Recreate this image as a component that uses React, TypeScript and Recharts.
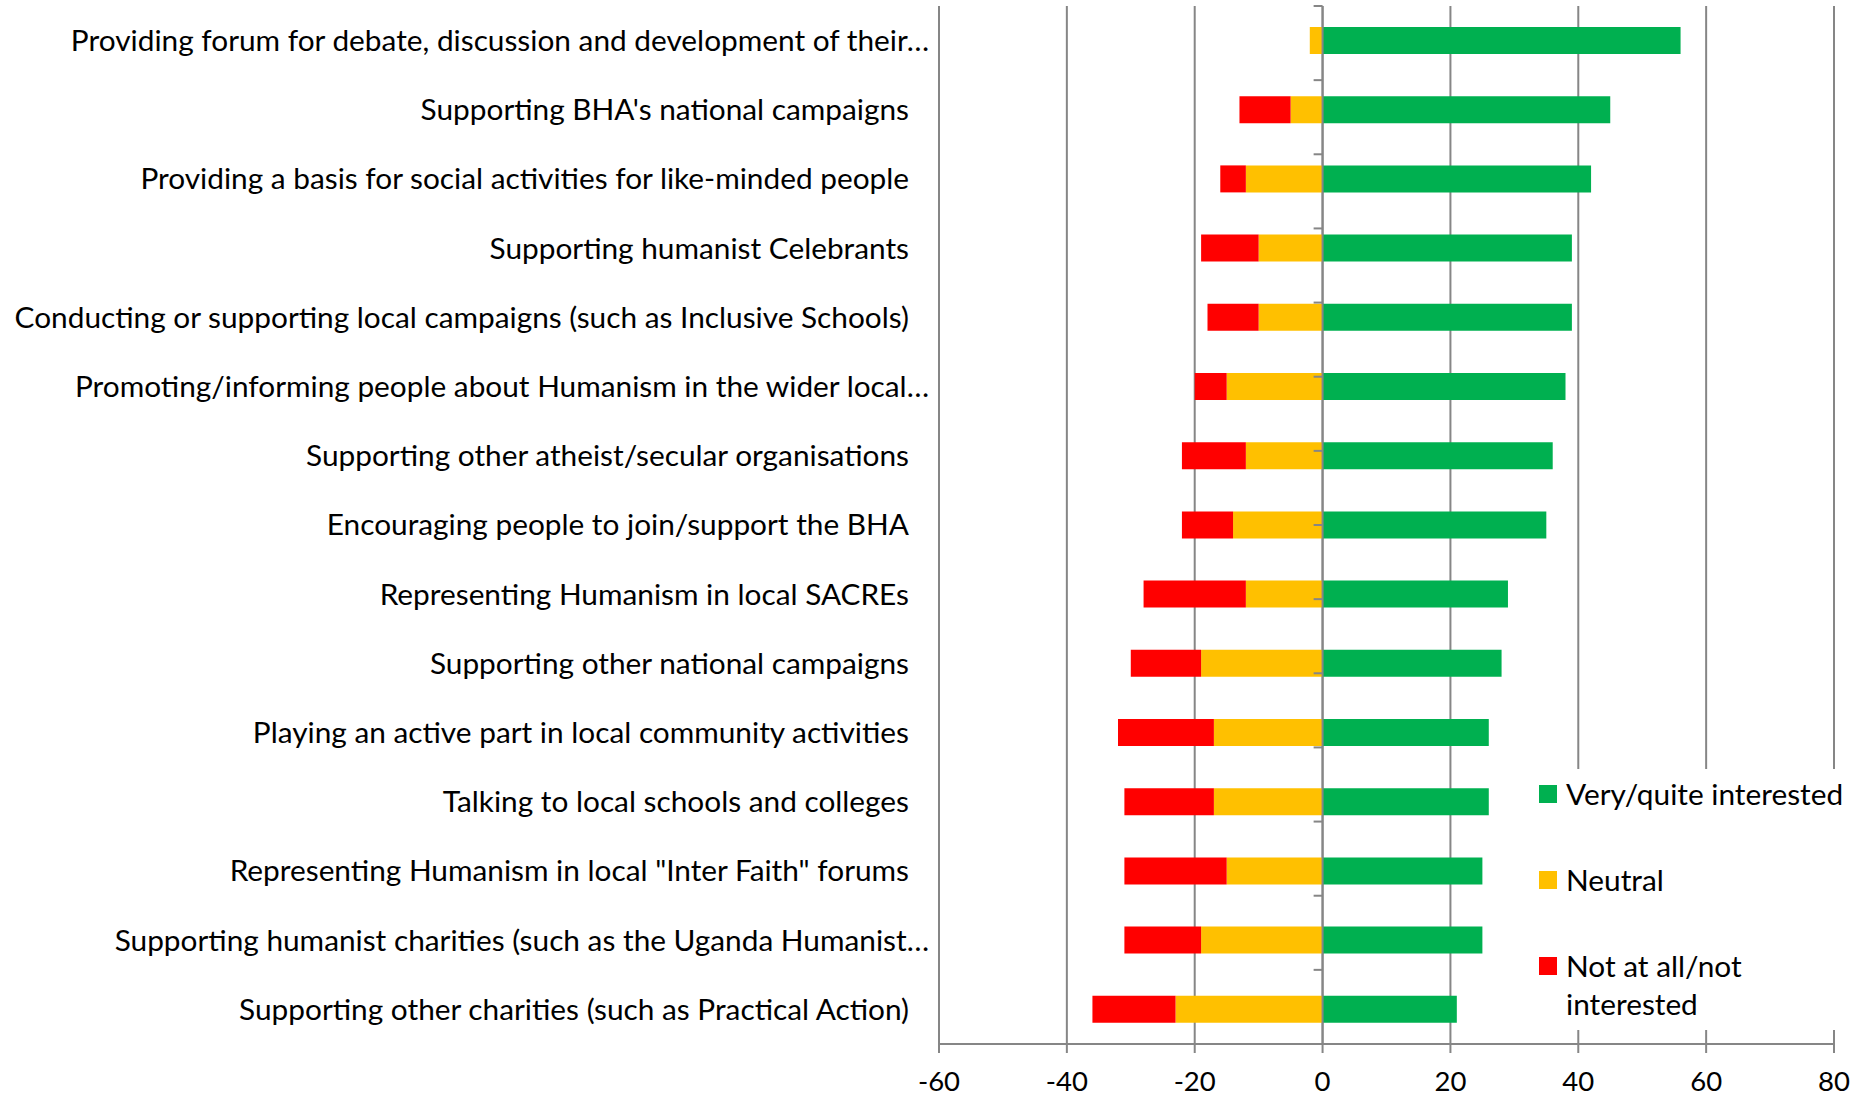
import React from 'react';
import { BarChart, Bar, XAxis, YAxis, CartesianGrid, ReferenceLine, Legend } from 'recharts';

const FONT = "Lato, 'Open Sans', sans-serif";

const categories = [
  'Providing forum for debate, discussion and development of their…',
  "Supporting BHA's national campaigns",
  'Providing a basis for social activities for like-minded people',
  'Supporting humanist Celebrants',
  'Conducting or supporting local campaigns (such as Inclusive Schools)',
  'Promoting/informing people about Humanism in the wider local…',
  'Supporting other atheist/secular organisations',
  'Encouraging people to join/support the BHA',
  'Representing Humanism in local SACREs',
  'Supporting other national campaigns',
  'Playing an active part in local community activities',
  'Talking to local schools and colleges',
  'Representing Humanism in local "Inter Faith" forums',
  'Supporting humanist charities (such as the Uganda Humanist…',
  'Supporting other charities (such as Practical Action)',
];

const interested = [56, 45, 42, 39, 39, 38, 36, 35, 29, 28, 26, 26, 25, 25, 21];
const neutral = [-2, -5, -12, -10, -10, -15, -12, -14, -12, -19, -17, -17, -15, -19, -23];
const notInterested = [0, -8, -4, -9, -8, -5, -10, -8, -16, -11, -15, -14, -16, -12, -13];

const xTicks = [-60, -40, -20, 0, 20, 40, 60, 80];

const seriesKeys = ['interested', 'neutral', 'notInterested'];
const seriesNames = ['Very/quite interested', 'Neutral', 'Not at all/not interested'];
const seriesColors = ['#00B050', '#FFC000', '#FF0000'];

const data = categories.map((name, i) => ({
  name,
  interested: interested[i],
  neutral: neutral[i],
  notInterested: notInterested[i],
}));

const boundaries = Array.from({ length: categories.length + 1 }, (_, i) => i);

const GRID = '#868686';
const LABEL_SIZE = 29.8;

const CategoryTick = (props: any) => {
  const { x, y, payload } = props;
  const label = String(payload.value);
  const truncated = label.endsWith('…');
  return (
    <text
      x={x - (truncated ? 0 : 20)}
      y={y}
      dy="0.35em"
      textAnchor="end"
      fontFamily={FONT}
      fontSize={LABEL_SIZE}
      fill="#000"
    >
      {label}
    </text>
  );
};

const LegendContent = () => (
  <div
    style={{
      position: 'relative',
      width: '100%',
      height: '100%',
      background: '#fff',
      fontFamily: FONT,
      fontSize: LABEL_SIZE,
      color: '#000',
    }}
  >
    {seriesNames.map((n, i) => (
      <div
        key={n}
        style={{ position: 'absolute', left: 9, top: 16 + i * 86, display: 'flex', alignItems: 'flex-start' }}
      >
        <div style={{ width: 18, height: 18, background: seriesColors[i], marginRight: 9, flex: 'none' }} />
        <div style={{ width: 290, lineHeight: '38px', marginTop: -10 }}>{n}</div>
      </div>
    ))}
  </div>
);

export default function App() {
  return (
    <div style={{ position: 'absolute', left: 0, top: 0, width: 1863, height: 1096, background: '#fff' }}>
      <BarChart
        width={1863}
        height={1096}
        data={data}
        layout="vertical"
        stackOffset="sign"
        margin={{ top: 6, right: 29, bottom: 0, left: 0 }}
        barSize={27}
      >
        <CartesianGrid horizontal={false} stroke={GRID} strokeWidth={2} />
        <XAxis
          type="number"
          domain={[-60, 80]}
          ticks={xTicks}
          interval={0}
          height={52}
          tickSize={9}
          tickMargin={18}
          axisLine={{ stroke: GRID, strokeWidth: 2 }}
          tickLine={{ stroke: GRID, strokeWidth: 2 }}
          tick={{ fontFamily: FONT, fontSize: 27.5, fill: '#000' }}
        />
        <YAxis
          type="category"
          dataKey="name"
          width={939}
          interval={0}
          axisLine={false}
          tickLine={false}
          tickSize={0}
          tickMargin={10}
          tick={<CategoryTick />}
        />
        <YAxis yAxisId="bounds" type="number" domain={[0, categories.length]} reversed hide />
        {seriesKeys.map((k, i) => (
          <Bar
            key={k}
            dataKey={k}
            name={seriesNames[i]}
            stackId="a"
            fill={seriesColors[i]}
            isAnimationActive={false}
          />
        ))}
        <ReferenceLine x={0} stroke={GRID} strokeWidth={2} />
        {boundaries.map((b) => (
          <ReferenceLine
            key={b}
            yAxisId="bounds"
            segment={[{ x: -1.4, y: b }, { x: 0, y: b }]}
            stroke={GRID}
            strokeWidth={2}
          />
        ))}
        <Legend
          layout="horizontal"
          verticalAlign="middle"
          align="center"
          content={<LegendContent />}
          wrapperStyle={{ left: 1530, top: 769, width: 330, height: 261, right: 'auto', bottom: 'auto' }}
        />
      </BarChart>
    </div>
  );
}
